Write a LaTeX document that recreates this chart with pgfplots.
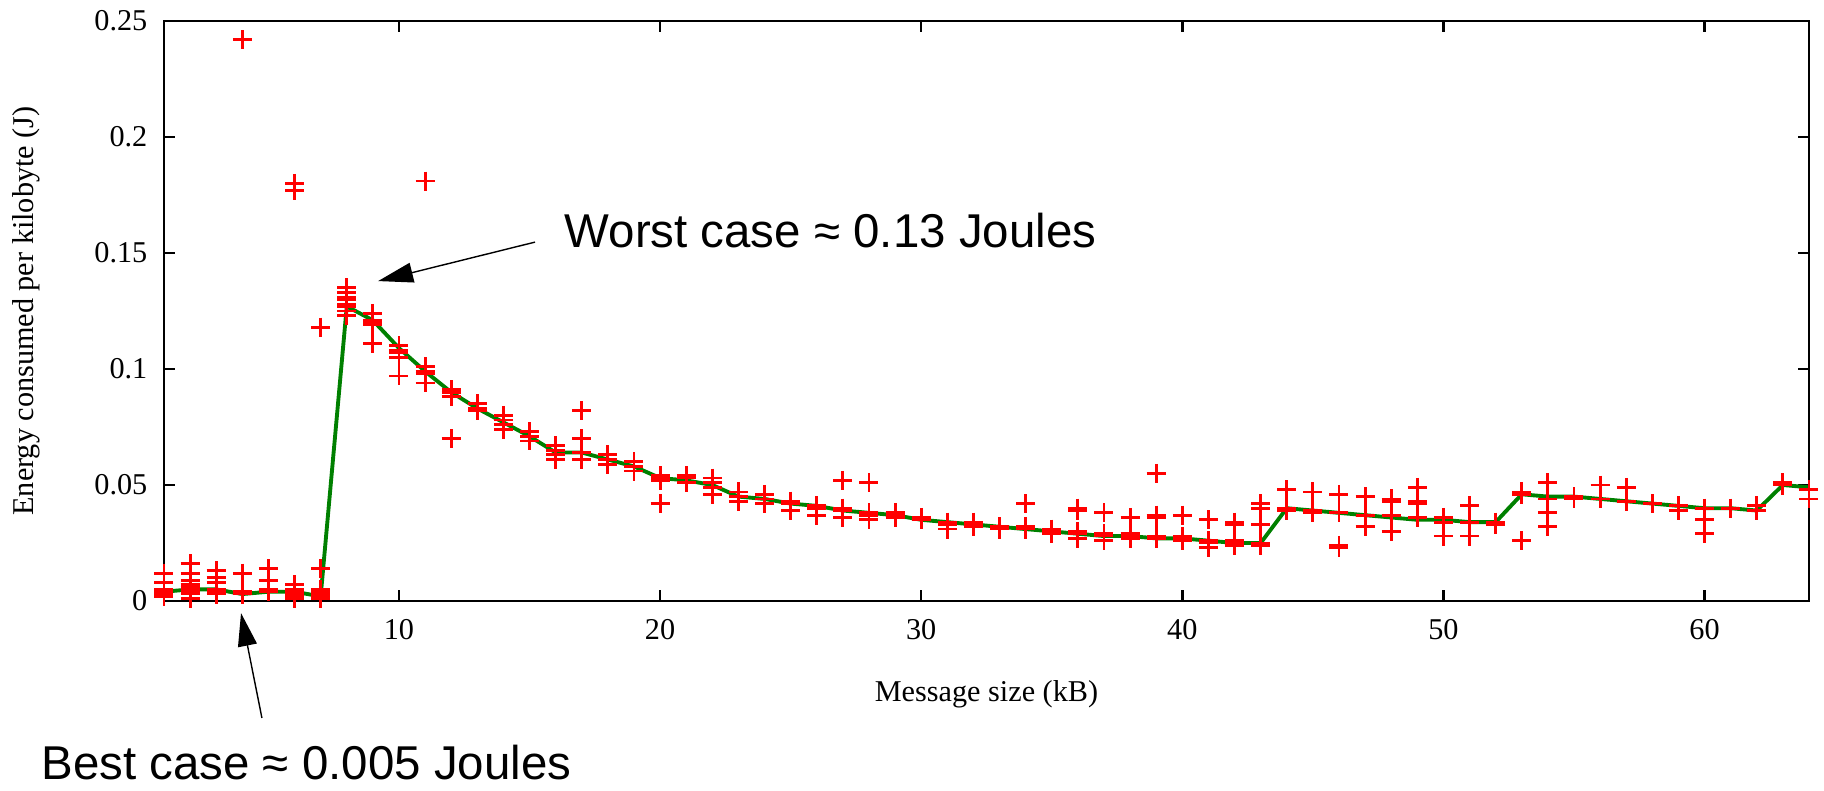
\documentclass[border=0pt]{standalone}
\usepackage{pgfplots}
\pgfplotsset{compat=1.18}
\usepackage{fontspec}
\setmainfont{Liberation Serif}
\newfontfamily\annfont{Liberation Sans}
\usetikzlibrary{arrows.meta}
\definecolor{gpgreen}{RGB}{0,128,0}
\definecolor{gpred}{RGB}{255,0,0}

\pgfplotstableread{
x y
1 0.012
1 0.008
1 0.005
1 0.004
1 0.0035
1 0.003
1 0.002
2 0.016
2 0.012
2 0.009
2 0.007
2 0.006
2 0.005
2 0.004
2 0.003
2 0.001
3 0.013
3 0.010
3 0.008
3 0.005
3 0.004
3 0.003
4 0.012
4 0.004
4 0.003
4 0.242
5 0.014
5 0.009
5 0.005
5 0.004
6 0.007
6 0.005
6 0.004
6 0.003
6 0.002
6 0.001
6 0.180
6 0.177
7 0.014
7 0.005
7 0.004
7 0.003
7 0.002
7 0.001
7 0.118
8 0.135
8 0.133
8 0.131
8 0.130
8 0.128
8 0.127
8 0.125
8 0.123
9 0.124
9 0.121
9 0.120
9 0.119
9 0.111
10 0.110
10 0.108
10 0.107
10 0.105
10 0.097
11 0.101
11 0.099
11 0.098
11 0.094
11 0.181
12 0.091
12 0.090
12 0.088
12 0.070
13 0.085
13 0.083
13 0.082
14 0.080
14 0.078
14 0.076
14 0.074
15 0.073
15 0.071
15 0.069
16 0.067
16 0.065
16 0.063
16 0.061
17 0.082
17 0.070
17 0.064
17 0.061
18 0.063
18 0.061
18 0.059
19 0.060
19 0.058
19 0.056
20 0.054
20 0.053
20 0.052
20 0.042
21 0.054
21 0.053
21 0.051
22 0.053
22 0.051
22 0.049
22 0.046
23 0.047
23 0.045
23 0.043
24 0.046
24 0.044
24 0.042
25 0.043
25 0.042
25 0.039
26 0.041
26 0.040
26 0.037
27 0.052
27 0.040
27 0.039
27 0.036
28 0.051
28 0.038
28 0.037
28 0.035
29 0.038
29 0.037
29 0.036
30 0.036
30 0.035
31 0.034
31 0.033
31 0.031
32 0.034
32 0.033
32 0.032
33 0.032
33 0.031
34 0.042
34 0.032
34 0.031
35 0.031
35 0.030
35 0.029
36 0.040
36 0.039
36 0.030
36 0.029
36 0.027
37 0.038
37 0.029
37 0.028
37 0.026
38 0.036
38 0.029
38 0.028
38 0.027
39 0.055
39 0.037
39 0.036
39 0.028
39 0.027
40 0.037
40 0.028
40 0.027
40 0.026
41 0.035
41 0.026
41 0.025
41 0.023
42 0.034
42 0.033
42 0.026
42 0.025
42 0.024
43 0.042
43 0.040
43 0.033
43 0.025
43 0.024
44 0.048
44 0.040
44 0.039
45 0.047
45 0.039
45 0.038
46 0.046
46 0.038
46 0.024
46 0.023
47 0.045
47 0.037
47 0.032
48 0.044
48 0.043
48 0.037
48 0.030
49 0.049
49 0.043
49 0.042
49 0.036
50 0.036
50 0.034
50 0.028
51 0.041
51 0.034
51 0.028
52 0.034
52 0.033
53 0.047
53 0.046
53 0.026
54 0.051
54 0.044
54 0.038
54 0.032
55 0.045
55 0.044
56 0.050
56 0.044
57 0.049
57 0.043
58 0.042
59 0.041
59 0.039
60 0.040
60 0.035
60 0.029
61 0.040
62 0.041
62 0.039
63 0.051
63 0.050
64 0.048
64 0.044
}\samples

\pgfplotstableread{
x y
1 0.004
2 0.005
3 0.005
4 0.003
5 0.004
6 0.004
7 0.002
8 0.127
9 0.121
10 0.109
11 0.099
12 0.090
13 0.083
14 0.077
15 0.071
16 0.064
17 0.064
18 0.061
19 0.058
20 0.053
21 0.052
22 0.050
23 0.045
24 0.044
25 0.042
26 0.041
27 0.039
28 0.038
29 0.037
30 0.035
31 0.034
32 0.033
33 0.032
34 0.031
35 0.030
36 0.029
37 0.028
38 0.028
39 0.027
40 0.027
41 0.026
42 0.025
43 0.025
44 0.040
45 0.039
46 0.038
47 0.037
48 0.036
49 0.035
50 0.035
51 0.034
52 0.034
53 0.046
54 0.045
55 0.045
56 0.044
57 0.043
58 0.042
59 0.041
60 0.040
61 0.040
62 0.039
63 0.050
64 0.049
}\medianline

\begin{document}
\begin{tikzpicture}
\path[use as bounding box] (-1.64cm,-1.89cm) rectangle (16.60cm,6.01cm);
\begin{axis}[
  at={(0,0)}, anchor=south west,
  scale only axis, width=16.45cm, height=5.80cm,
  xmin=1, xmax=64, ymin=0, ymax=0.25,
  xtick={10,20,30,40,50,60},
  ytick={0,0.05,0.1,0.15,0.2,0.25},
  yticklabels={0,0.05,0.1,0.15,0.2,0.25},
  xticklabels={10,20,30,40,50,60},
  /pgf/number format/assume math mode=true,
  tick align=inside,
  major tick length=0.11cm,
  axis line style={line width=0.7pt},
  every tick/.style={black, line width=0.7pt},
  tick label style={font=\fontsize{8.6}{10}\selectfont},
  xticklabel style={anchor=center, yshift=-0.29cm, inner sep=0pt},
  yticklabel style={anchor=east, xshift=-0.16cm, inner sep=0pt},
  every axis y label/.style={at={(axis description cs:0,0.5)}, xshift=-1.38cm, rotate=90, anchor=center, font=\fontsize{8.6}{10}\selectfont},
  every axis x label/.style={at={(axis description cs:0.5,0)}, yshift=-0.93cm, anchor=center, font=\fontsize{8.6}{10}\selectfont},
  xlabel={Message size (kB)},
  ylabel={Energy consumed per kilobyte (J)},
  clip=false,
]
\addplot[only marks, mark=+, mark size=0.095cm, color=gpred, mark options={line width=0.8pt}] table[x=x,y=y] {\samples};
\addplot[no marks, color=gpgreen, line width=1.1pt] table[x=x,y=y] {\medianline};
\draw[-{Triangle[length=0.35cm,width=0.2cm]}, line width=0.4pt] (axis cs:15.21,0.1547) -- (axis cs:9.20,0.1379);
\draw[-{Triangle[length=0.33cm,width=0.19cm]}, line width=0.4pt] (axis cs:4.75,-0.0504) -- (axis cs:3.95,-0.0052);
\node[anchor=west, inner sep=0pt, font=\annfont\fontsize{13.5}{16}\selectfont] at (axis cs:16.32,0.1599) {Worst case ≈ 0.13 Joules};
\node[anchor=west, inner sep=0pt, font=\annfont\fontsize{13.5}{16}\selectfont] at (axis cs:-3.72,-0.0695) {Best case ≈ 0.005 Joules};
\end{axis}
\end{tikzpicture}
\end{document}
